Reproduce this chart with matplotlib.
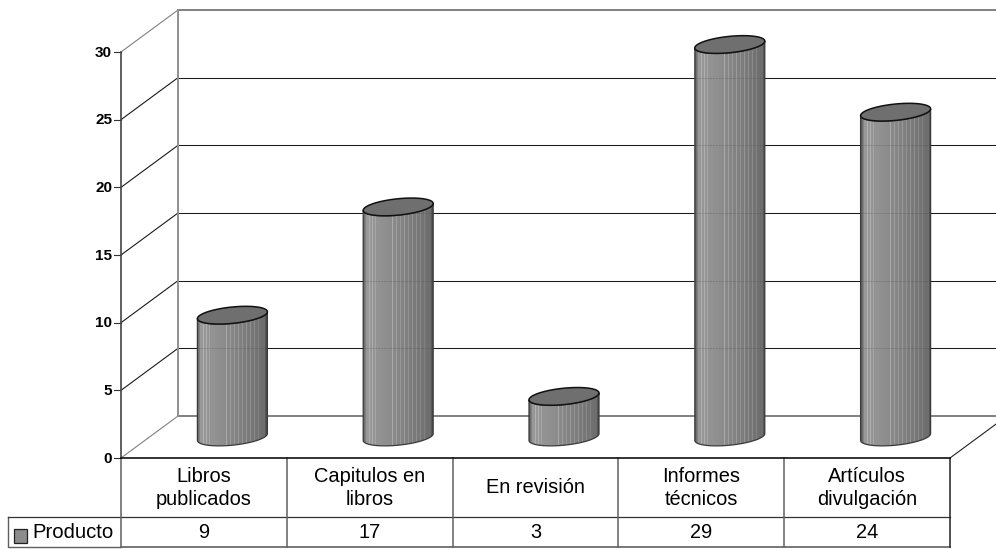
import numpy as np
import matplotlib
matplotlib.use("Agg")
import matplotlib.pyplot as plt
from matplotlib.patches import Polygon, Rectangle

plt.rcParams['font.family'] = ['Liberation Sans', 'DejaVu Sans']

# Data
categorias = ["Libros\npublicados", "Capitulos en\nlibros", "En revisión",
              "Informes\ntécnicos", "Artículos\ndivulgación"]
valores = [9, 17, 3, 29, 24]
serie = "Producto"
yticks = [0, 5, 10, 15, 20, 25, 30]

W, H = 996, 550
fig = plt.figure(figsize=(W / 100, H / 100), dpi=100)
ax = fig.add_axes([121 / W, (H - 458) / H, 829 / W, 406 / H])
ax.set_xlim(0, 5)
ax.set_ylim(0, 30)
ax.axis('off')

# one data unit in pixels, used to size the 3D look
ux = 829 / 5
uy = 406 / 30
dx = 57 / ux   # depth offset
dy = 42 / uy

# walls and grid
GRID = '#1a1a1a'
WALL = '#808080'
for v in yticks:
    col = WALL if v in (0, 30) else GRID
    lw = 1.4 if v in (0, 30) else 0.75
    ax.plot([0, dx], [v, v + dy], color=col, lw=0.8, clip_on=False, zorder=1)
    ax.plot([dx, 5 + dx], [v + dy, v + dy], color=col, lw=lw, clip_on=False, zorder=1)
    ax.plot([-7 / ux, 0], [v, v], color='#333333', lw=0.8, clip_on=False, zorder=3)
    ax.text(-9 / ux, v - 0.05, str(v), ha='right', va='center', fontsize=11,
            fontweight='bold', clip_on=False)
ax.plot([dx, dx], [dy, 30 + dy], color='#909090', lw=1.4, clip_on=False, zorder=1)
ax.plot([0, 0], [0, 30], color='#444444', lw=1.2, clip_on=False, zorder=3)
ax.plot([5, 5 + dx], [0, dy], color='#222222', lw=0.8, clip_on=False, zorder=1)

# shading across a cylinder, with the thin light facet lines
n = 70
shade = 0.60 - 0.18 * np.linspace(0, 1, n) ** 1.3
shade[:3] = [0.38, 0.44, 0.50]
shade[-2:] = [0.34, 0.30]
for k, step in [(6, 0.10), (9, 0.10), (12, 0.07), (29, 0.12), (33, 0.09), (37, 0.08),
                (41, 0.10), (45, 0.08), (49, 0.10), (53, 0.09), (57, 0.08), (61, 0.06)]:
    shade[k] += step
shade = shade[np.newaxis, :]

a = 35 / ux      # half width
b = 8.2 / uy     # half height of the ellipse
tilt = 3.4 / uy  # right side sits higher
t = np.linspace(0, 2 * np.pi, 120)


def ellipse(cx, cy, tt):
    return cx + a * np.cos(tt), cy + b * np.sin(tt) + tilt * np.cos(tt)


for i, v in enumerate(valores):
    cx = i + 0.5 + dx / 2
    y0 = dy / 2
    y1 = v + dy / 2
    low = np.linspace(np.pi, 2 * np.pi, 60)
    xb, yb = ellipse(cx, y0, low)
    xt, yt = ellipse(cx, y1, low)
    body = np.vstack([np.column_stack([xb, yb]), np.column_stack([xt, yt])[::-1]])
    im = ax.imshow(shade, cmap='gray', vmin=0, vmax=1, aspect='auto', zorder=4,
                   extent=[cx - a, cx + a, y0 - b - tilt, y1 + b + tilt],
                   interpolation='nearest')
    clip = Polygon(body, closed=True, transform=ax.transData, fc='none', ec='none')
    ax.add_patch(clip)
    im.set_clip_path(clip)
    im.set_clip_box(fig.bbox)
    # grid seen faintly through the cylinder
    for g in yticks[1:]:
        if y0 < g + dy < y1:
            ax.plot([cx - a, cx + a], [g + dy, g + dy], color='#444444', lw=0.7,
                    alpha=0.3, ls=(0, (2, 1)), zorder=5)
    ax.add_patch(Polygon(body, closed=True, fc='none', ec='#3a3a3a', lw=0.9, zorder=6,
                         clip_on=False))
    xe, ye = ellipse(cx, y1, t)
    ax.add_patch(Polygon(np.column_stack([xe, ye]), closed=True, fc='#6f6f6f',
                         ec='#111111', lw=1.1, zorder=7, clip_on=False))

# data table under the chart
fila1 = -59 / uy
fila2 = -89 / uy
izq = -113 / ux
TAB = '#606060'
ax.plot([0, 5], [0, 0], color='#111111', lw=1.2, clip_on=False, zorder=8)
ax.plot([0, 5], [fila1, fila1], color='#333333', lw=0.9, clip_on=False)
ax.plot([izq, izq, 0], [fila1, fila2, fila2], color=TAB, lw=1.0, clip_on=False)
ax.plot([izq, 0], [fila1, fila1], color='#333333', lw=0.9, clip_on=False)
ax.plot([0, 5], [fila2, fila2], color=TAB, lw=1.2, clip_on=False)
for i in range(6):
    col = '#222222' if i == 5 else TAB
    ax.plot([i, i], [0, fila2], color=col, lw=1.1, clip_on=False)
for i, (c, v) in enumerate(zip(categorias, valores)):
    ax.text(i + 0.5, fila1 / 2 - 0.03, c, ha='center', va='center', fontsize=14.4,
            linespacing=1.28, clip_on=False)
    ax.text(i + 0.5, (fila1 + fila2) / 2, str(v), ha='center', va='center',
            fontsize=14.4, clip_on=False)
ax.add_patch(Rectangle((izq + 5.5 / ux, fila2 + 4 / uy), 13.5 / ux, 14 / uy, fc='#8c8c8c',
                       ec='#222222', lw=0.9, clip_on=False))
ax.text(izq + 24 / ux, (fila1 + fila2) / 2, serie, ha='left', va='center',
        fontsize=14.6, clip_on=False)

fig.savefig("out.png", dpi=100, facecolor='white')
